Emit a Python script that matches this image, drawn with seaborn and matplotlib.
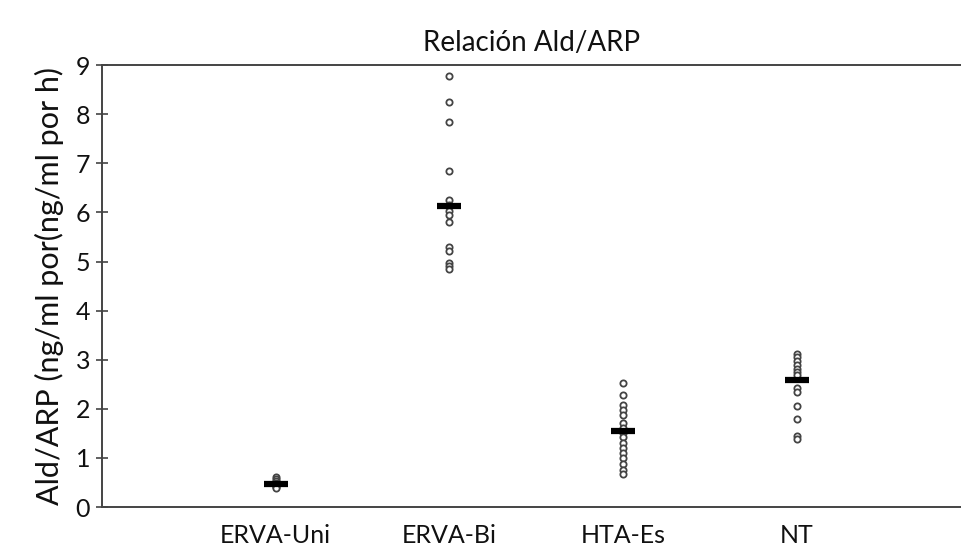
import numpy as np
import pandas as pd
import matplotlib
matplotlib.use('Agg')
import matplotlib.pyplot as plt
import seaborn as sns

# groups and values
grupos = ['ERVA-Uni', 'ERVA-Bi', 'HTA-Es', 'NT']
erva_uni = [0.62, 0.58, 0.53, 0.49, 0.46, 0.43, 0.40, 0.38]
erva_bi = [8.78, 8.25, 7.85, 6.85, 6.25, 6.15, 6.10, 6.02, 5.95, 5.80, 5.30, 5.22, 4.97, 4.90, 4.85]
hta_es = [2.52, 2.28, 2.08, 1.98, 1.88, 1.72, 1.62, 1.50, 1.42, 1.30, 1.20, 1.10, 1.00, 0.88, 0.76, 0.68]
nt = [3.12, 3.05, 2.98, 2.90, 2.82, 2.75, 2.68, 2.42, 2.35, 2.05, 1.80, 1.45, 1.38]
medias = [0.47, 6.12, 1.55, 2.58]

valores = [erva_uni, erva_bi, hta_es, nt]
df = pd.DataFrame({
    'grupo': np.repeat(grupos, [len(v) for v in valores]),
    'valor': np.concatenate(valores),
})
df_media = pd.DataFrame({'grupo': grupos, 'valor': medias})

sns.set_style('white')
plt.rcParams['font.family'] = ['Lato', 'DejaVu Sans']
plt.rcParams['text.color'] = '#111111'
plt.rcParams['xtick.color'] = '#111111'
plt.rcParams['ytick.color'] = '#111111'
plt.rcParams['axes.labelcolor'] = '#111111'

fig = plt.figure(figsize=(9.62, 5.56), dpi=100)
ax = fig.add_axes([0.106, 0.088, 0.894, 0.795])

sns.stripplot(data=df, x='grupo', y='valor', order=grupos, jitter=False,
              color='white', edgecolor='#444444', linewidth=1.3, size=4.5, ax=ax)
sns.scatterplot(data=df_media, x='grupo', y='valor', marker='_', s=300,
                linewidth=4.5, color='black', zorder=5, ax=ax)

ax.set_xlim(-1, 3.95)
ax.set_ylim(0, 9)
ax.set_yticks(range(0, 10))
ax.tick_params(axis='y', direction='inout', length=9, width=1.2, color='#444444',
               labelsize=18, left=True, pad=4)
ax.tick_params(axis='x', length=0, labelsize=18, pad=12)
ax.set_xlabel('')
ax.set_ylabel('Ald/ARP (ng/ml por(ng/ml por h)', fontsize=22, labelpad=8)
ax.set_title('Relación Ald/ARP', fontsize=20, pad=10)

for s in ['left', 'bottom', 'top']:
    ax.spines[s].set_color('#444444')
    ax.spines[s].set_linewidth(1.4)
ax.spines['right'].set_visible(False)

fig.savefig('out.png', dpi=100)
